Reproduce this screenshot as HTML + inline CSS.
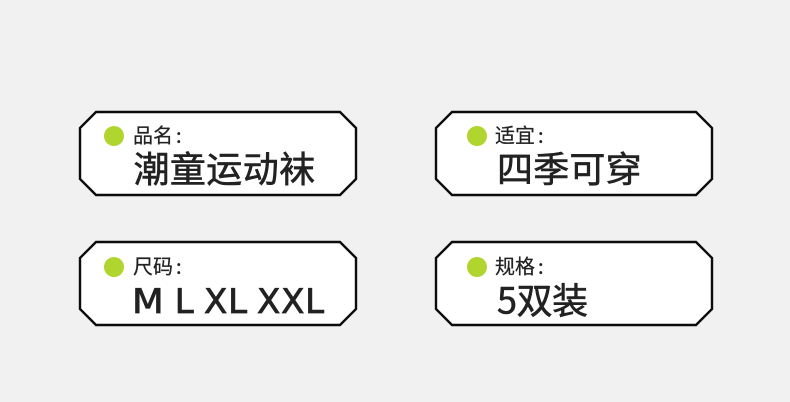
<!DOCTYPE html>
<html>
<head>
<meta charset="utf-8">
<style>
html,body{margin:0;padding:0;width:790px;height:402px;background:#f1f1f1;overflow:hidden}
svg{display:block}
.s{font-family:"Noto Sans CJK SC",sans-serif;font-size:20px;fill:#222;stroke:#222;stroke-width:.25}
.b{font-family:"Noto Sans CJK SC",sans-serif;font-size:36px;fill:#222;stroke:#222;stroke-width:.6}
.l{font-family:"DejaVu Sans",sans-serif;font-size:34px;letter-spacing:.8px;fill:#222;stroke:#222;stroke-width:.8}
</style>
</head>
<body>
<svg width="790" height="402" viewBox="0 0 790 402" xmlns="http://www.w3.org/2000/svg">
<rect width="790" height="402" fill="#f1f1f1"/>
<g fill="#fff" stroke="#0c0c0c" stroke-width="2.4">
<polygon points="96,112 340,112 356,128 356,179 340,195 96,195 80,179 80,128"/>
<polygon points="452,112 696,112 712,128 712,179 696,195 452,195 436,179 436,128"/>
<polygon points="96,242 340,242 356,258 356,309 340,325 96,325 80,309 80,258"/>
<polygon points="452,242 696,242 712,258 712,309 696,325 452,325 436,309 436,258"/>
</g>
<g fill="#b1d52f">
<circle cx="114" cy="136" r="10"/>
<circle cx="477" cy="136" r="10"/>
<circle cx="114" cy="267" r="10"/>
<circle cx="477" cy="267" r="10"/>
</g>
<text class="s" x="133" y="142.6">品名<tspan x="176">:</tspan></text>
<text class="s" x="495" y="142.6">适宜<tspan x="538">:</tspan></text>
<text class="s" x="133" y="273.6">尺码<tspan x="176">:</tspan></text>
<text class="s" x="495" y="273.6">规格<tspan x="538">:</tspan></text>
<text class="b" x="133.5" y="182" letter-spacing=".4">潮童运动袜</text>
<text class="b" x="497" y="182" letter-spacing=".2">四季可穿</text>
<text class="l" transform="translate(132,313) scale(1.08,1)">M</text>
<text class="l" x="174.7" y="313">L</text>
<text class="l" x="204" y="313">XL</text>
<text class="l" x="257" y="313">XXL</text>
<text class="b" x="497" y="313.5" letter-spacing="-.4">5双装</text>
</svg>
</body>
</html>
